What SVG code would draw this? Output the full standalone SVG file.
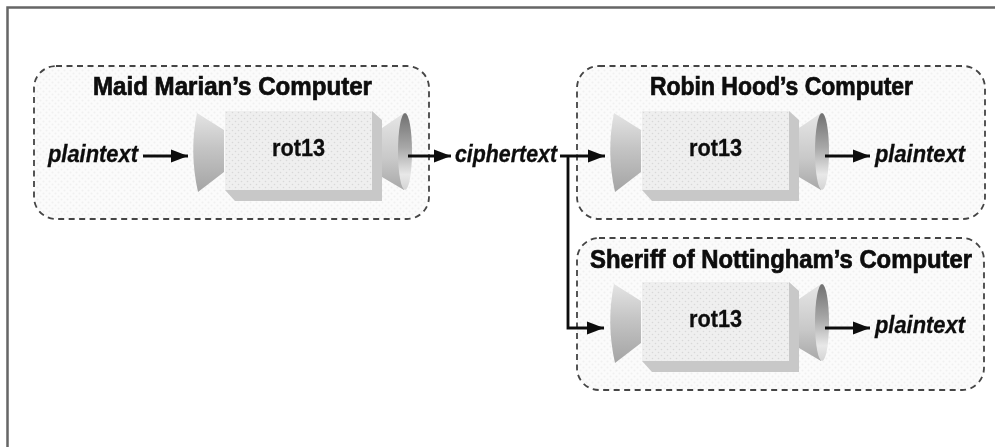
<svg xmlns="http://www.w3.org/2000/svg" width="995" height="447" viewBox="0 0 995 447">
<style>
text{font-family:"Liberation Sans",Arial,sans-serif;font-weight:bold;fill:#0c0c0c;stroke:#0c0c0c}
.title{font-size:25px;stroke-width:.7}
.rot{font-size:24px;stroke-width:.3}
.it{font-size:24px;font-style:italic;stroke-width:.3}
.grp{fill:url(#dots);stroke:#444;stroke-width:1.800;stroke-dasharray:6 4.500}
.conn{fill:none;stroke:#111;stroke-width:2.800}
</style>
<defs>
<pattern id="dots" width="6" height="6" patternUnits="userSpaceOnUse"><rect width="6" height="6" fill="#fbfbfb"/><circle cx="1.500" cy="1.500" r="1" fill="#f0f0f0"/><circle cx="4.500" cy="4.500" r="1" fill="#f0f0f0"/></pattern>
<pattern id="boxdots" width="6" height="6" patternUnits="userSpaceOnUse"><rect width="6" height="6" fill="#efefef"/><circle cx="1.500" cy="1.500" r=".8" fill="#d8d8d8"/><circle cx="4.500" cy="4.500" r=".8" fill="#d8d8d8"/></pattern>
<linearGradient id="lc" x1="0" y1="0" x2="0" y2="1"><stop offset="0" stop-color="#e4e4e4"/><stop offset=".45" stop-color="#c4c4c4"/><stop offset="1" stop-color="#a4a4a4"/></linearGradient>
<linearGradient id="rc" x1="0" y1="0" x2="0" y2="1"><stop offset="0" stop-color="#e6e6e6"/><stop offset=".6" stop-color="#c8c8c8"/><stop offset="1" stop-color="#a8a8a8"/></linearGradient>
<linearGradient id="el" x1="0" y1="0" x2="0" y2="1"><stop offset="0" stop-color="#707070"/><stop offset=".45" stop-color="#a8a8a8"/><stop offset=".8" stop-color="#e8e8e8"/><stop offset="1" stop-color="#d4d4d4"/></linearGradient>
<marker id="ah" markerUnits="userSpaceOnUse" markerWidth="18" markerHeight="14" refX="17" refY="7" orient="auto"><path d="M0 0.500L17 7L0 13.500Z" fill="#0c0c0c"/></marker>
<filter id="soft" x="-2%" y="-2%" width="104%" height="104%"><feGaussianBlur stdDeviation="0.550"/></filter>
<g id="dev">
<path d="M197 113L224 130V172L198 192Q189 152 197 113Z" fill="url(#lc)"/>
<path d="M225 190L235 201H382V120L372 111Z" fill="#c8c8c8"/>
<rect x="225" y="111" width="147" height="79" fill="url(#boxdots)"/>
<path d="M382 128L404 113V190L382 177Z" fill="url(#rc)"/>
<ellipse cx="405" cy="151.500" rx="7" ry="38.500" fill="url(#el)"/>
</g>
</defs>
<rect width="995" height="447" fill="#fff"/>
<g filter="url(#soft)">
<path id="frame" d="M7.500 447V7.500H995" fill="none" stroke="#666" stroke-width="2.500"/>
<g id="maid">
<rect class="grp" x="34" y="66" width="395" height="153" rx="22"/>
<text class="title" x="93" y="95" textLength="279" lengthAdjust="spacingAndGlyphs">Maid Marian’s Computer</text>
<use href="#dev"/>
<text class="rot" x="272" y="156" textLength="53" lengthAdjust="spacingAndGlyphs">rot13</text>
<text class="it" x="48" y="162" textLength="90" lengthAdjust="spacingAndGlyphs">plaintext</text>
</g>
<g id="robin">
<rect class="grp" x="577" y="66" width="408" height="153" rx="22"/>
<text class="title" x="650" y="95" textLength="263" lengthAdjust="spacingAndGlyphs">Robin Hood’s Computer</text>
<use href="#dev" x="417"/>
<text class="rot" x="689" y="156" textLength="53" lengthAdjust="spacingAndGlyphs">rot13</text>
<text class="it" x="875" y="162" textLength="90" lengthAdjust="spacingAndGlyphs">plaintext</text>
</g>
<g id="sheriff">
<rect class="grp" x="577" y="238" width="407" height="152" rx="22"/>
<text class="title" x="590" y="268" textLength="382" lengthAdjust="spacingAndGlyphs">Sheriff of Nottingham’s Computer</text>
<use href="#dev" x="417" y="171"/>
<text class="rot" x="689" y="327" textLength="53" lengthAdjust="spacingAndGlyphs">rot13</text>
<text class="it" x="875" y="333" textLength="90" lengthAdjust="spacingAndGlyphs">plaintext</text>
</g>
<text id="ciphertext" class="it" x="455" y="162" textLength="102" lengthAdjust="spacingAndGlyphs">ciphertext</text>
<g id="connectors">
<path class="conn" marker-end="url(#ah)" d="M143 156H188"/>
<path class="conn" marker-end="url(#ah)" d="M408 156H451"/>
<path class="conn" marker-end="url(#ah)" d="M560 156H605"/>
<path class="conn" marker-end="url(#ah)" d="M568 156V328H604"/>
<path class="conn" marker-end="url(#ah)" d="M825 156H870"/>
<path class="conn" marker-end="url(#ah)" d="M825 328H870"/>
</g>
</g>
</svg>
